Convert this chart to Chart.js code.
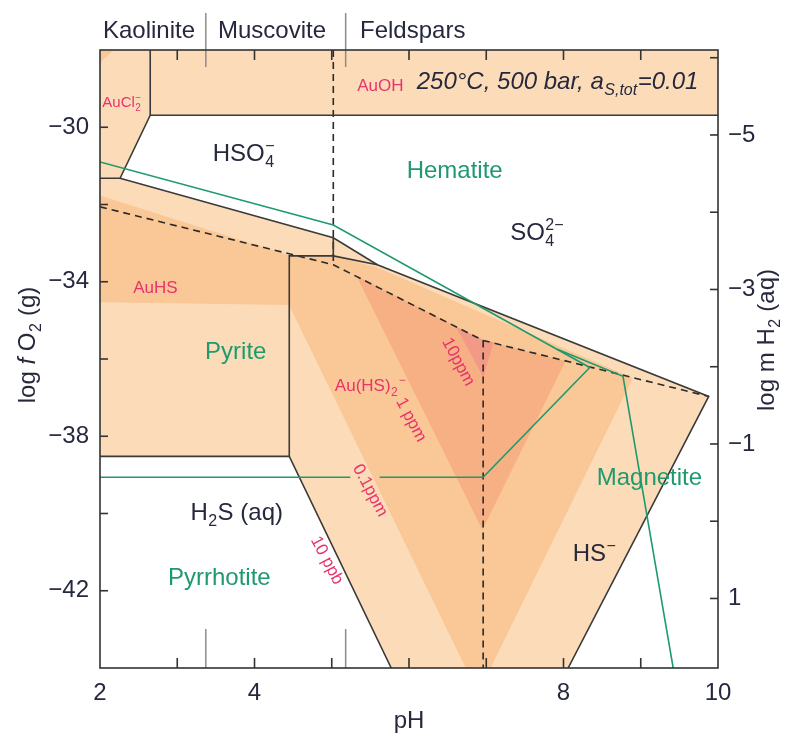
<!DOCTYPE html>
<html>
<head>
<meta charset="utf-8">
<script src="https://cdn.jsdelivr.net/npm/chart.js@4.4.0/dist/chart.umd.min.js"></script>
<style>
  html, body { margin: 0; padding: 0; background: #fff; }
  #wrap { width: 796px; height: 735px; }
</style>
</head>
<body>
<div id="wrap"><canvas id="chart" width="796" height="735"></canvas></div>
<script>
// axes
const pHRange = [2, 10];
const fO2Range = [-44, -28];
const h2Offset = -20.1;            // log m H2 = -0.5 * log fO2 + offset
const pHTickLabels = [2, 4, 8, 10];
const pHMinorTicks = [3, 4, 5, 6, 7, 8, 9];
const fO2TickLabels = [-30, -34, -38, -42];
const fO2MinorTicks = [-30, -32, -34, -36, -38, -40, -42];
const h2TickLabels = [-5, -3, -1, 1];
const h2MinorTicks = [-6, -5, -4, -3, -2, -1, 0, 1];
const mineralSplits = [3.37, 5.18];  // kaolinite | muscovite | feldspars

// gold solubility fields [pH, log fO2]
const fieldTop = [[2, -28], [10, -28], [10, -29.69], [2.65, -29.69], [2.26, -31.32], [2, -31.32]];
const fieldMain = [[2, -31.32], [2.26, -31.32], [5.02, -32.86], [5.59, -33.56], [9.88, -36.97],
                   [8.06, -44], [5.77, -44], [4.45, -38.52], [2, -38.52]];
const fieldCorner = [[2, -28], [2.17, -28], [2, -28.32]];
const field01ppm = [[2, -31.78], [4.45, -33.33], [5.02, -33.35], [5.59, -33.64], [6.92, -34.80],
                    [8.89, -36.50], [7.05, -44], [6.74, -44], [4.45, -34.59], [2, -34.52]];
const field1ppm = [[5.33, -33.87], [6.96, -35.52], [8.02, -36.06], [6.95, -40.40]];
const field10ppm = [[6.62, -35.19], [6.96, -35.52], [7.09, -35.57], [6.96, -36.45]];

// boundaries
const auUpper = [[2, -31.32], [2.26, -31.32], [5.02, -32.86], [5.59, -33.56], [9.88, -36.97], [8.06, -44]];
const auTop = [[10, -29.69], [2.65, -29.69], [2.26, -31.32]];
const auTopSplit = [[2.65, -28], [2.65, -29.69]];
const auBox = [[5.59, -33.56], [5.02, -33.33], [4.45, -33.33], [4.45, -38.52], [5.77, -44]];
const auBoxBase = [[2, -38.52], [4.45, -38.52]];
const auBoxStep = [[5.02, -32.86], [5.02, -33.33]];
const sulfurLine = [[2, -32.06], [5.02, -33.56], [6.96, -35.52], [9.88, -36.97]];
const sulfateSplit = [[5.02, -28], [5.02, -33.56]];
const sulfideSplit = [[6.96, -35.52], [6.96, -44]];
const pyriteEdge = [[2, -30.90], [5.02, -32.53], [8.34, -36.22], [6.96, -39.06], [5.62, -39.06]];
const pyrrhotiteEdge = [[2, -39.06], [5.24, -39.06]];
const magnetiteEdge = [[7.92, -35.75], [8.77, -36.45], [9.42, -44]];

const FAMILY = '"Liberation Sans", Arial, Helvetica, sans-serif';
const DARK = '#26283d';
const PINK = '#e8336b';
const GREEN = '#1f9a6e';
const SHADE = ['#fcdcb8', '#fac797', '#f6b083', '#f39a87'];

const toXY = pts => pts.map(p => ({ x: p[0], y: p[1] }));

function fieldSet(pts, color, order) {
  return {
    data: toXY(pts.concat([pts[0]])), showLine: true, fill: 'shape',
    backgroundColor: color, borderColor: color, borderWidth: 0.8,
    pointRadius: 0, tension: 0, order: order
  };
}

function lineSet(pts, color, width, dash) {
  return {
    data: toXY(pts), showLine: true, fill: false, borderColor: color,
    borderWidth: width, borderDash: dash || [], pointRadius: 0, tension: 0, order: 0
  };
}

function fontOf(size, italic) {
  return (italic ? 'italic ' : '') + size + 'px ' + FAMILY;
}

function drawRich(ctx, parts, x, y, size, color, align) {
  const small = Math.round(size * 0.68);
  const widths = parts.map(p => {
    if (p.t !== undefined) { ctx.font = fontOf(size, p.i); return ctx.measureText(p.t).width; }
    ctx.font = fontOf(small, p.i);
    let w = 0;
    if (p.sub) w = Math.max(w, ctx.measureText(p.sub).width);
    if (p.sup) w = Math.max(w, ctx.measureText(p.sup).width);
    return w + 1;
  });
  const total = widths.reduce((s, w) => s + w, 0);
  let cx = align === 'center' ? x - total / 2 : x;
  ctx.fillStyle = color;
  ctx.textAlign = 'left';
  ctx.textBaseline = 'alphabetic';
  parts.forEach((p, i) => {
    if (p.t !== undefined) {
      ctx.font = fontOf(size, p.i);
      ctx.fillText(p.t, cx, y);
    } else {
      ctx.font = fontOf(small, p.i);
      if (p.sub) ctx.fillText(p.sub, cx + 0.5, y + size * 0.24);
      if (p.sup) ctx.fillText(p.sup, cx + 0.5, y - size * 0.42);
    }
    cx += widths[i];
  });
}

const fieldLabels = [
  { parts: [{ t: 'HSO' }, { sub: '4', sup: '−' }], at: [3.46, -30.88], size: 24, color: DARK },
  { parts: [{ t: 'Hematite' }], at: [5.97, -31.32], size: 24, color: GREEN },
  { parts: [{ t: 'SO' }, { sub: '4', sup: '2−' }], at: [7.31, -32.92], size: 24, color: DARK },
  { parts: [{ t: 'AuHS' }], at: [2.43, -34.28], size: 17, color: PINK },
  { parts: [{ t: 'Pyrite' }], at: [3.36, -36.01], size: 24, color: GREEN },
  { parts: [{ t: 'Au(HS)' }, { sub: '2' }, { sup: '−' }], at: [5.04, -36.84], size: 17, color: PINK },
  { parts: [{ t: 'H' }, { sub: '2' }, { t: 'S (aq)' }], at: [3.17, -40.17], size: 24, color: DARK },
  { parts: [{ t: 'Pyrrhotite' }], at: [2.88, -41.85], size: 24, color: GREEN },
  { parts: [{ t: 'Magnetite' }], at: [8.43, -39.26], size: 24, color: GREEN },
  { parts: [{ t: 'HS' }, { sup: '−' }], at: [8.12, -41.23], size: 24, color: DARK },
  { parts: [{ t: 'AuOH' }], at: [5.33, -29.07], size: 17, color: PINK },
  { parts: [{ t: 'AuCl' }, { sub: '2', sup: '−' }], at: [2.03, -29.48], size: 15, color: PINK },
  { parts: [{ t: '250°C, 500 bar, a', i: true }, { sub: 'S,tot', i: true }, { t: '=0.01', i: true }],
    at: [6.10, -29.02], size: 24, color: DARK }
];

const contourLabels = [
  { text: '10ppm', at: [6.65, -36.06] },
  { text: '1 ppm', at: [6.04, -37.56] },
  { text: '0.1ppm', at: [5.51, -39.39] },
  { text: '10 ppb', at: [4.95, -41.20] }
];

const mineralLabels = [
  { text: 'Kaolinite', x: 103 },
  { text: 'Muscovite', x: 218 },
  { text: 'Feldspars', x: 360 }
];

const framePlugin = {
  id: 'frame',
  afterDraw(chart) {
    const { ctx, chartArea: a, scales } = chart;
    const sx = scales.x, sy = scales.y, sy2 = scales.y2;
    const seg = (x1, y1, x2, y2) => { ctx.beginPath(); ctx.moveTo(x1, y1); ctx.lineTo(x2, y2); ctx.stroke(); };
    ctx.save();

    ctx.strokeStyle = '#8c8c8c';
    ctx.lineWidth = 1.5;
    mineralSplits.forEach(v => {
      const px = sx.getPixelForValue(v);
      seg(px, a.top - 37, px, a.top + 17);
      seg(px, a.bottom - 39, px, a.bottom);
    });

    ctx.strokeStyle = '#333';
    ctx.lineWidth = 1.6;
    pHMinorTicks.forEach(v => {
      const px = sx.getPixelForValue(v);
      seg(px, a.top, px, a.top + 10);
      seg(px, a.bottom, px, a.bottom - 10);
    });
    fO2MinorTicks.forEach(v => {
      const py = sy.getPixelForValue(v);
      seg(a.left, py, a.left + 8, py);
    });
    h2MinorTicks.forEach(v => {
      const py = sy2.getPixelForValue(v);
      seg(a.right, py, a.right - 8, py);
    });
    ctx.strokeRect(a.left, a.top, a.right - a.left, a.bottom - a.top);

    fieldLabels.forEach(l => {
      drawRich(ctx, l.parts, sx.getPixelForValue(l.at[0]), sy.getPixelForValue(l.at[1]), l.size, l.color, 'left');
    });

    contourLabels.forEach(l => {
      ctx.save();
      ctx.translate(sx.getPixelForValue(l.at[0]), sy.getPixelForValue(l.at[1]));
      ctx.rotate(62 * Math.PI / 180);
      drawRich(ctx, [{ t: l.text }], 0, 6, 17, PINK, 'center');
      ctx.restore();
    });

    mineralLabels.forEach(l => drawRich(ctx, [{ t: l.text }], l.x, 38, 24, DARK, 'left'));

    drawRich(ctx, [{ t: 'pH' }], (a.left + a.right) / 2, 728, 24, DARK, 'center');

    ctx.save();
    ctx.translate(35, 345);
    ctx.rotate(-Math.PI / 2);
    drawRich(ctx, [{ t: 'log ' }, { t: 'f', i: true }, { t: ' O' }, { sub: '2' }, { t: ' (g)' }], 0, 0, 24, DARK, 'center');
    ctx.restore();

    ctx.save();
    ctx.translate(774, 340);
    ctx.rotate(-Math.PI / 2);
    drawRich(ctx, [{ t: 'log m H' }, { sub: '2' }, { t: ' (aq)' }], 0, 0, 24, DARK, 'center');
    ctx.restore();

    ctx.restore();
  }
};

const minus = v => String(v).replace('-', '\u2212');

new Chart(document.getElementById('chart'), {
  type: 'scatter',
  data: {
    datasets: [
      lineSet(pyriteEdge, GREEN, 1.6),
      lineSet(pyrrhotiteEdge, GREEN, 1.6),
      lineSet(magnetiteEdge, GREEN, 1.6),
      lineSet(auUpper, '#3a3a3a', 1.6),
      lineSet(auTop, '#3a3a3a', 1.6),
      lineSet(auTopSplit, '#3a3a3a', 1.6),
      lineSet(auBox, '#3a3a3a', 1.6),
      lineSet(auBoxBase, '#3a3a3a', 1.6),
      lineSet(auBoxStep, '#3a3a3a', 1.6),
      lineSet(sulfurLine, '#2a2a2a', 1.6, [7, 5]),
      lineSet(sulfateSplit, '#2a2a2a', 1.6, [7, 5]),
      lineSet(sulfideSplit, '#2a2a2a', 1.6, [7, 5]),
      fieldSet(field10ppm, SHADE[3], 1),
      fieldSet(field1ppm, SHADE[2], 2),
      fieldSet(field01ppm, SHADE[1], 3),
      fieldSet(fieldCorner, SHADE[1], 3),
      fieldSet(fieldMain, SHADE[0], 4),
      fieldSet(fieldTop, SHADE[0], 4)
    ]
  },
  options: {
    responsive: false,
    animation: false,
    devicePixelRatio: 1,
    layout: { padding: { top: 50, left: 0, right: 0, bottom: 0 } },
    plugins: { legend: { display: false }, tooltip: { enabled: false } },
    scales: {
      x: {
        type: 'linear', position: 'bottom', min: pHRange[0], max: pHRange[1],
        grid: { display: false, drawTicks: false }, border: { display: false },
        afterBuildTicks: s => { s.ticks = pHTickLabels.map(v => ({ value: v })); },
        afterFit: s => { s.height = 67; },
        ticks: { autoSkip: false, maxRotation: 0, padding: 11, color: DARK,
                 font: { family: FAMILY, size: 24 } }
      },
      y: {
        type: 'linear', position: 'left', min: fO2Range[0], max: fO2Range[1],
        grid: { display: false, drawTicks: false }, border: { display: false },
        afterBuildTicks: s => { s.ticks = fO2TickLabels.map(v => ({ value: v })); },
        afterFit: s => { s.width = 100; },
        ticks: { autoSkip: false, padding: 11, color: DARK, callback: minus,
                 font: { family: FAMILY, size: 24 } }
      },
      y2: {
        type: 'linear', position: 'right', reverse: true,
        min: -0.5 * fO2Range[1] + h2Offset, max: -0.5 * fO2Range[0] + h2Offset,
        grid: { display: false, drawTicks: false }, border: { display: false },
        afterBuildTicks: s => { s.ticks = h2TickLabels.map(v => ({ value: v })); },
        afterFit: s => { s.width = 78; },
        ticks: { autoSkip: false, padding: 10, color: DARK, callback: minus,
                 font: { family: FAMILY, size: 24 } }
      }
    }
  },
  plugins: [framePlugin]
});
</script>
</body>
</html>
